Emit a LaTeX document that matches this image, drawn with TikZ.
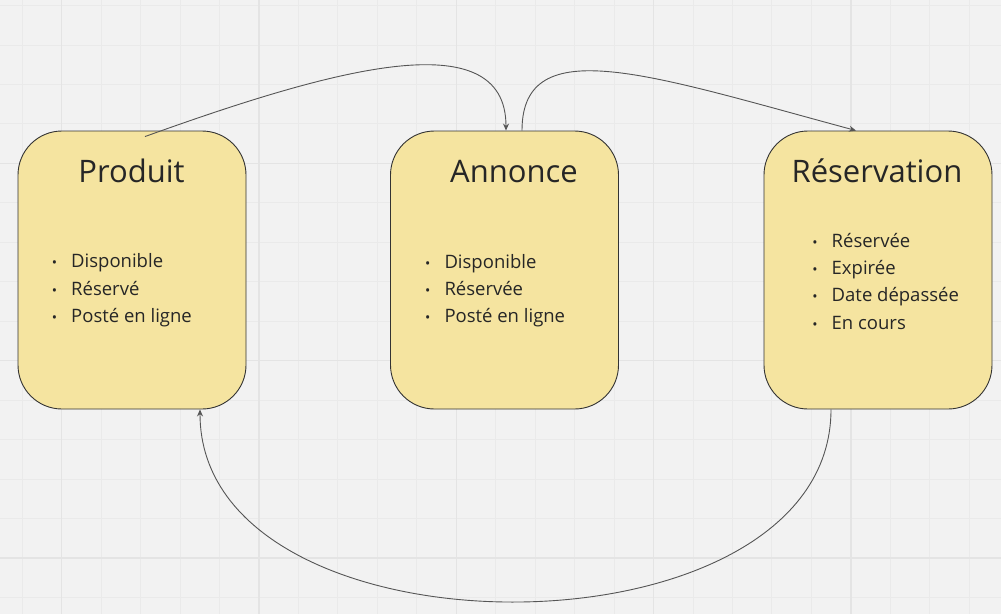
\documentclass[tikz,border=0pt]{standalone}
\usepackage{fontspec}
\setmainfont{Open Sans}
\usetikzlibrary{calc,arrows.meta}
\definecolor{bg}{HTML}{F2F2F2}
\definecolor{gridminor}{HTML}{EAEAEA}
\definecolor{gridmajor}{HTML}{E4E4E4}
\definecolor{boxfill}{HTML}{F5E4A0}
\definecolor{boxline}{HTML}{333333}
\definecolor{txt}{HTML}{262626}
\definecolor{connc}{HTML}{555555}
\newcommand{\bul}{\llap{{\fontsize{14}{14}\selectfont •}\hspace{14pt}}}
\begin{document}
\begin{tikzpicture}[x=1pt,y=-1pt,
  state/.style={draw=boxline, line width=0.9pt, fill=boxfill, rounded corners=44pt,
    minimum width=228pt, minimum height=278pt, inner sep=0pt},
  ttl/.style={font=\fontsize{31}{36}\selectfont, text=txt, anchor=base, inner sep=0pt},
  item/.style={font=\fontsize{18.5}{24}\selectfont, text=txt, anchor=base west, inner sep=0pt},
  connector/.style={draw=connc, line width=0.9pt, -{Stealth[length=7pt,width=6pt]}},
  gmin/.style={draw=gridminor, line width=1pt},
  gmaj/.style={draw=gridmajor, line width=1.3pt}]
\useasboundingbox (0,0) rectangle (1001,614);
\fill[bg] (0,0) rectangle (1001,614);
% grid
\foreach \i in {-1,...,24} \draw[gmin] ({61.7+39.46*\i},0) -- ++(0,614);
\foreach \k in {-1,...,14} \draw[gmin] (0,{558-39.46*\k}) -- ++(1001,0);
\foreach \i in {0,...,4} \draw[gmaj] ({61.7+197.3*\i},0) -- ++(0,614);
\foreach \k in {0,...,2} \draw[gmaj] (0,{558-197.3*\k}) -- ++(1001,0);
% boxes
\node[state] (p) at (132,270) {};
\node[state] (a) at (504.5,270) {};
\node[state] (r) at (878,270) {};
% titles
\node[ttl] (pt) at (131.5,182.7) {Produit};
\node[ttl] (at) at (514,182.7) {Annonce};
\node[ttl] (rt) at (877,182.7) {Réservation};
% items
\node[item] (p1) at (71,267.5) {\bul Disponible};
\node[item] (p2) at (71,295) {\bul Réservé};
\node[item] (p3) at (71,322.3) {\bul Posté en ligne};
\node[item] (a1) at (444.3,268) {\bul Disponible};
\node[item] (a2) at (444.3,295.5) {\bul Réservée};
\node[item] (a3) at (444.3,322.7) {\bul Posté en ligne};
\node[item] (r1) at (831.5,247.3) {\bul Réservée};
\node[item] (r2) at (831.5,274.3) {\bul Expirée};
\node[item] (r3) at (831.5,301.7) {\bul Date dépassée};
\node[item] (r4) at (831.5,329) {\bul En cours};
% connectors
\draw[connector] ($(p.north)+(13,6)$) .. controls (330,70) and (506,20) .. ($(a.north)+(1.5,0)$);
\draw[connector] ($(a.north)+(17.5,0)$) .. controls (522,30) and (650,75) .. ($(r.north)+(-22,0)$);
\draw[connector] ($(r.south)+(-47,0)$) .. controls (831,665) and (200,666) .. ($(p.south)+(68,0)$);
\end{tikzpicture}
\end{document}
